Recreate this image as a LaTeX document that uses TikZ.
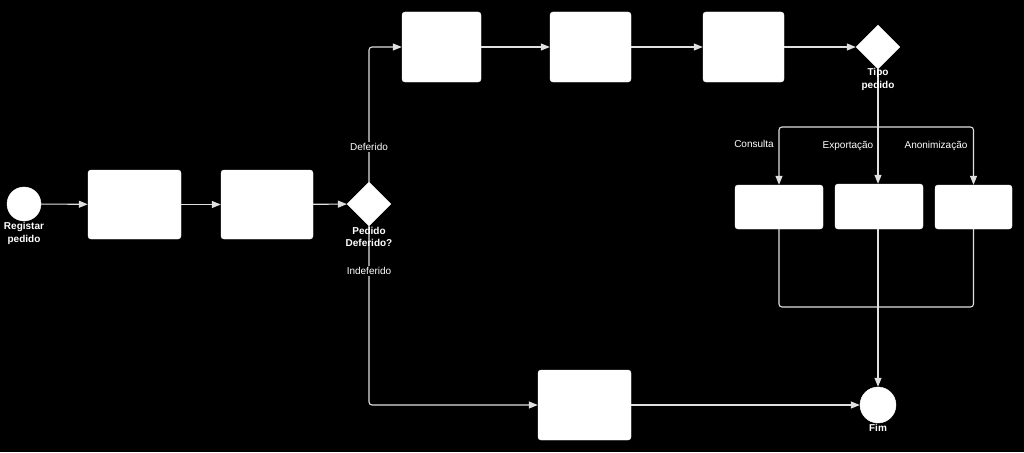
\documentclass[tikz,border=0pt]{standalone}
\usepackage{fontspec}
\setmainfont{Liberation Sans}
\usetikzlibrary{arrows.meta,shapes.geometric}
\begin{document}
\begin{tikzpicture}[x=1pt,y=-1pt,
  line/.style={draw=white!88!black, line width=1.1pt},
  arr/.style={line, -{Triangle[length=9pt,width=7pt]}},
  taskbox/.style={fill=white, draw=white, rounded corners=3pt, minimum width=#1, inner sep=0pt},
  evt/.style={circle, fill=white, draw=white, minimum size=34pt, inner sep=0pt},
  gate/.style={diamond, fill=white, draw=white, minimum size=44pt, inner sep=0pt},
  lbl/.style={text=white, font=\fontsize{10}{12}\selectfont, fill=black, inner sep=1pt},
  blbl/.style={text=white, font=\fontsize{10}{12.5}\selectfont\bfseries, align=center, inner sep=0.5pt}
]
\fill[black] (0,0) rectangle (1024,452);
\useasboundingbox (0,0) rectangle (1024,452);

% nodes
\node[evt] (start) at (24,204) {};
\node[taskbox=93pt, minimum height=69pt] (b1) at (134.5,204.5) {};
\node[taskbox=92pt, minimum height=69pt] (b2) at (267,204.5) {};
\node[gate] (g1) at (369,204) {};
\node[taskbox=79pt, minimum height=70pt] (b3) at (441.5,47) {};
\node[taskbox=81pt, minimum height=70pt] (b4) at (590.5,47) {};
\node[taskbox=81pt, minimum height=70pt] (b5) at (743.5,47) {};
\node[gate] (g2) at (878,47) {};
\node[taskbox=88pt, minimum height=44pt] (b6) at (779,207) {};
\node[taskbox=88pt, minimum height=45pt] (b7) at (879,206.5) {};
\node[taskbox=77pt, minimum height=44pt] (b8) at (973.5,207) {};
\node[taskbox=93pt, minimum height=70pt] (b9) at (584.5,405) {};
\node[evt, minimum size=36pt] (fim) at (878,405) {};

\coordinate (fork) at (878,127);
\coordinate (merge) at (878,307);

% connectors
\draw[arr] (start) -- (b1);
\draw[arr] (b1) -- (b2);
\draw[arr] (b2) -- (g1);
\draw[arr, rounded corners=3pt] (g1.north) |- (b3.west);
\draw[arr] (b3) -- (b4);
\draw[arr] (b4) -- (b5);
\draw[arr] (b5) -- (g2);
\draw[arr, rounded corners=3pt] (g1.south) |- (b9.west);
\draw[arr] (b9) -- (fim);
\draw[line] (g2.south) -- (fork);
\draw[arr, rounded corners=3pt] (fork) -| (b6.north);
\draw[arr, rounded corners=3pt] (fork) -| (b8.north);
\draw[arr] (fork) -- (fork |- b7.north);
\draw[line, rounded corners=3pt] (b6.south) |- (merge);
\draw[line, rounded corners=3pt] (b8.south) |- (merge);
\draw[line] (b7.south -| merge) -- (merge);
\draw[arr] (merge) -- (fim.north);

% labels
\node[lbl] (ldef) at (369,147) {Deferido};
\node[lbl] (lindef) at (369,271) {Indeferido};
\node[lbl] (lcons) at (754,144) {Consulta};
\node[lbl] (lexp) at (848,146) {Exportação};
\node[lbl] (lanon) at (936,146) {Anonimização};
\node[blbl] (lstart) at (24,233.5) {Registar\\pedido};
\node[blbl] (lg1) at (369,237) {Pedido\\Deferido?};
\node[blbl] (lg2) at (878,79.5) {Tipo\\pedido};
\node[blbl] (lfim) at (878,428) {Fim};
\end{tikzpicture}
\end{document}
